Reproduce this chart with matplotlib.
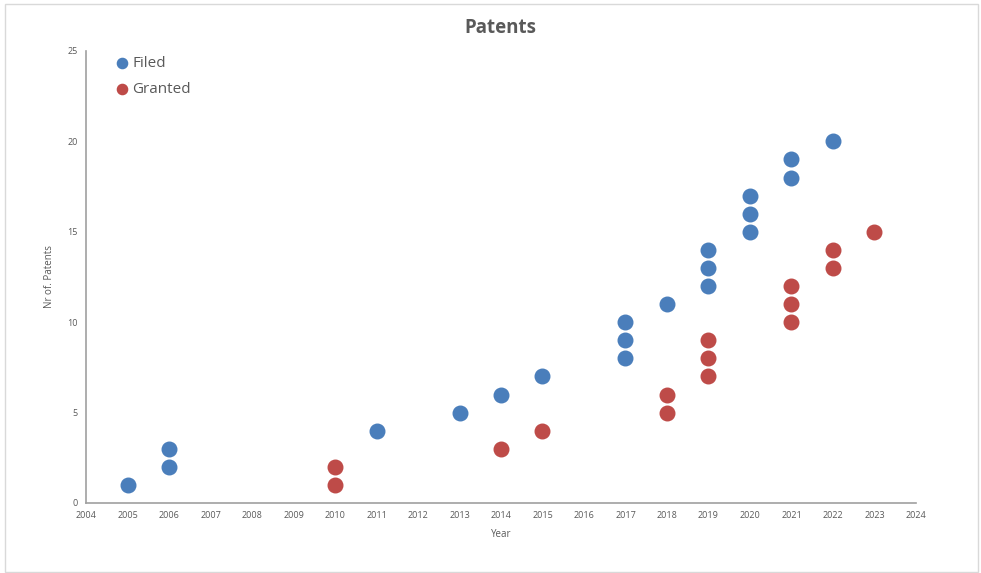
import matplotlib.pyplot as plt
from matplotlib.patches import Rectangle

# data
filed_years = [2005, 2006, 2006, 2011, 2013, 2014, 2015, 2017, 2017, 2017, 2018,
               2019, 2019, 2019, 2020, 2020, 2020, 2021, 2021, 2022]
filed_counts = [1, 2, 3, 4, 5, 6, 7, 8, 9, 10, 11, 12, 13, 14, 15, 16, 17, 18, 19, 20]

granted_years = [2010, 2010, 2014, 2015, 2018, 2018, 2019, 2019, 2019,
                 2021, 2021, 2021, 2022, 2022, 2023]
granted_counts = [1, 2, 3, 4, 5, 6, 7, 8, 9, 10, 11, 12, 13, 14, 15]

x_ticks = list(range(2004, 2025))
y_ticks = [0, 5, 10, 15, 20, 25]

plt.rcParams['font.family'] = ['Open Sans', 'DejaVu Sans']
grey = '#595959'

fig = plt.figure(figsize=(9.81, 5.73), dpi=100)
ax = fig.add_axes([0.0877, 0.1222, 0.8460, 0.7888])

ax.scatter(filed_years, filed_counts, s=110, color='#4a7ebb', label='Filed', zorder=3)
ax.scatter(granted_years, granted_counts, s=110, color='#be4b48', label='Granted', zorder=3)

ax.set_xlim(2004, 2024)
ax.set_ylim(0, 25)
ax.set_xticks(x_ticks)
ax.set_yticks(y_ticks)
ax.tick_params(length=0, labelsize=6.5, labelcolor=grey, pad=6)

for side in ['top', 'right']:
    ax.spines[side].set_visible(False)
for side in ['left', 'bottom']:
    ax.spines[side].set_color('#a0a0a0')
    ax.spines[side].set_linewidth(1.2)

ax.set_xlabel('Year', fontsize=7, color=grey, labelpad=6)
ax.set_ylabel('Nr of. Patents', fontsize=7, color=grey, labelpad=9)
fig.text(0.51, 0.952, 'Patents', ha='center', va='center',
         fontsize=13.5, fontweight='bold', color=grey)

leg = ax.legend(loc='upper left', bbox_to_anchor=(0.018, 1.02), frameon=False,
                fontsize=11, handlelength=1.0, handletextpad=0.15,
                labelspacing=0.72, markerscale=0.7)
for t in leg.get_texts():
    t.set_color(grey)

fig.patches.append(Rectangle((0.005, 0.002), 0.992, 0.991, transform=fig.transFigure,
                             fill=False, edgecolor='#d9d9d9', linewidth=1))

fig.savefig('out.png', dpi=100)
